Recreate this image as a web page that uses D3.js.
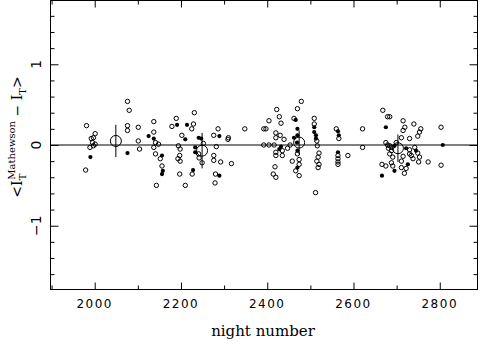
<!DOCTYPE html>
<html>
<head>
<meta charset="utf-8">
<script src="https://cdn.jsdelivr.net/npm/d3@7"></script>
<style>
  body { margin: 0; background: #fff; }
  svg text { fill: #000; }
</style>
</head>
<body>
<div id="chart"></div>
<script>
// single nights, open symbols
const openNight = [1981,1979,2001,1997,1992,1995,2001,1989,1997,2076,2080,2076,2076,2101,2101,2104,
  2231,2137,2189,2179,2229,2225,2137,2202,2141,2148,2137,2194,2198,2241,2141,2152,2197,2193,2198,2156,2197,2226,2143,2210,
  2252,2242,2249,2286,2276,2310,2309,2348,2392,2282,2276,2276,2292,2317,2280,2279,2392,
  2479,2470,2422,2428,2404,2432,2462,2509,2509,2397,2420,2430,2420,2439,2515,2404,2416,2453,2516,2420,2435,2447,2420,2435,
  2470,2458,2474,2520,2518,2515,2520,2518,2474,2466,2418,2414,2420,2474,2512,
  2560,2566,2564,2564,2564,2564,2587,2621,2621,2668,2679,2675,2679,2681,2666,2675,
  2684,2715,2740,2719,2756,2753,2715,2711,2730,2749,2803,2699,2684,2689,2730,2742,2749,2730,2734,2753,2738,2715,2711,
  2688,2684,2691,2688,2691,2711,2722,2751,2773,2803,2718];
const openDiff = [0.24,-0.31,0.14,0.09,0.08,0.03,0.01,-0.03,-0.01,0.54,0.43,0.24,0.18,0.22,0.05,-0.05,
  0.40,0.29,0.33,0.23,0.26,0.20,0.16,0.12,0.03,0.01,-0.03,-0.01,-0.05,-0.11,-0.11,-0.17,-0.13,-0.17,-0.20,-0.26,-0.36,-0.36,-0.50,-0.50,
  0.02,-0.16,-0.22,0.20,0.12,0.09,0.07,0.20,0.20,-0.02,-0.13,-0.19,-0.21,-0.23,-0.36,-0.47,0.00,
  0.54,0.45,0.44,0.35,0.30,0.27,0.33,0.33,0.26,0.20,0.15,0.12,0.09,0.07,0.05,0.00,0.00,0.00,-0.01,-0.09,-0.07,-0.04,-0.13,-0.13,
  -0.11,-0.20,-0.18,-0.10,-0.15,-0.20,-0.24,-0.28,-0.24,-0.32,-0.27,-0.36,-0.40,-0.38,-0.59,
  0.20,0.08,-0.13,-0.17,-0.21,-0.24,-0.13,0.20,-0.03,0.43,0.35,0.03,0.00,-0.04,-0.24,-0.26,
  0.35,0.30,0.26,0.22,0.20,0.16,0.18,0.09,0.08,0.11,0.22,0.03,-0.01,-0.03,-0.06,-0.03,-0.10,-0.11,-0.13,-0.15,-0.17,-0.14,-0.20,
  -0.07,-0.11,-0.15,-0.22,-0.26,-0.28,-0.29,-0.21,-0.21,-0.25,-0.35];

// single nights, filled symbols
const filledNight = [1990,2076,2191,2214,2125,2137,2210,2241,2233,2233,2156,2158,2156,2228,2247,2289,2289,
  2466,2509,2470,2509,2470,2462,2513,2513,2469,2432,2428,2470,2470,2564,2566,2564,2675,2666,2695,2722,2745,2695,2726,2807];
const filledDiff = [-0.15,-0.10,0.25,0.25,0.11,0.08,0.07,0.09,-0.03,-0.09,-0.13,-0.32,-0.36,-0.31,0.08,0.11,-0.38,
  0.31,0.22,0.20,0.16,0.12,0.09,0.12,0.08,0.03,-0.02,-0.05,-0.07,-0.28,0.17,0.12,-0.09,0.22,-0.38,-0.01,-0.04,-0.07,-0.32,-0.24,0.00];

// season means with errors
const meanNight = [2049, 2249, 2474, 2703];
const meanDiff = [0.05, -0.07, 0.03, -0.04];
const meanErr = [0.20, 0.22, 0.15, 0.17];

const xMajor = [2000, 2200, 2400, 2600, 2800];
const xMinor = [1900, 2100, 2300, 2500, 2700];
const yMajor = [-1, 0, 1];
const yMinor = [-1.6, -1.4, -1.2, -0.8, -0.6, -0.4, -0.2, 0.2, 0.4, 0.6, 0.8, 1.2, 1.4, 1.6];

const W = 480, H = 344;
const margin = {top: 0.5, right: 2.5, bottom: 54.5, left: 50.5};

const svg = d3.select('#chart').append('svg')
  .attr('width', W).attr('height', H);

const x = d3.scaleLinear().domain([1897.5, 2887.5]).range([margin.left, W - margin.right]);
const y = d3.scaleLinear().domain([-1.79, 1.79]).range([H - margin.bottom, margin.top]);

const x0 = margin.left, x1 = W - margin.right, y0 = margin.top, y1 = H - margin.bottom;

// frame
svg.append('rect')
  .attr('x', x0).attr('y', y0).attr('width', x1 - x0).attr('height', y1 - y0)
  .attr('fill', 'none').attr('stroke', '#000').attr('stroke-width', 1);

// ticks on all four sides, pointing inward
function addAxis(axis, tx, ty, values, size) {
  const g = svg.append('g').attr('transform', `translate(${tx},${ty})`)
    .call(axis.tickValues(values).tickSize(size).tickFormat(''));
  g.select('.domain').remove();
  g.selectAll('line').attr('stroke', '#000').attr('stroke-width', 1);
}
addAxis(d3.axisBottom(x), 0, y1, xMajor, -7);
addAxis(d3.axisBottom(x), 0, y1, xMinor, -4);
addAxis(d3.axisTop(x), 0, y0, xMajor, -7);
addAxis(d3.axisTop(x), 0, y0, xMinor, -4);
addAxis(d3.axisLeft(y), x0, 0, yMajor, -8);
addAxis(d3.axisLeft(y), x0, 0, yMinor, -4);
addAxis(d3.axisRight(y), x1, 0, yMajor, -8);
addAxis(d3.axisRight(y), x1, 0, yMinor, -4);

// tick labels
svg.append('g').selectAll('text').data(xMajor).join('text')
  .attr('x', d => x(d)).attr('y', y1 + 18)
  .attr('text-anchor', 'middle')
  .style('font-family', '"DejaVu Sans", sans-serif')
  .style('font-size', '12px').style('letter-spacing', '1.5px')
  .text(d => d);

svg.append('g').selectAll('text').data(yMajor).join('text')
  .attr('transform', d => `translate(40.5,${y(d)}) rotate(-90)`)
  .attr('text-anchor', 'middle')
  .style('font-family', '"DejaVu Sans", sans-serif')
  .style('font-size', '14px')
  .text(d => d < 0 ? '\u2212' + Math.abs(d) : d);

// zero line
svg.append('line')
  .attr('x1', x0).attr('x2', x1).attr('y1', y(0)).attr('y2', y(0))
  .attr('stroke', '#000').attr('stroke-width', 1);

// points
svg.append('g').selectAll('circle').data(d3.range(openNight.length)).join('circle')
  .attr('cx', i => x(openNight[i])).attr('cy', i => y(openDiff[i]))
  .attr('r', 2.2).attr('fill', 'none').attr('stroke', '#000').attr('stroke-width', 1);

svg.append('g').selectAll('circle').data(d3.range(filledNight.length)).join('circle')
  .attr('cx', i => x(filledNight[i])).attr('cy', i => y(filledDiff[i]))
  .attr('r', 2.1).attr('fill', '#000');

// means with error bars
const means = svg.append('g');
means.selectAll('line').data(d3.range(meanNight.length)).join('line')
  .attr('x1', i => x(meanNight[i])).attr('x2', i => x(meanNight[i]))
  .attr('y1', i => y(meanDiff[i] + meanErr[i])).attr('y2', i => y(meanDiff[i] - meanErr[i]))
  .attr('stroke', '#000').attr('stroke-width', 1);
means.selectAll('circle').data(d3.range(meanNight.length)).join('circle')
  .attr('cx', i => x(meanNight[i])).attr('cy', i => y(meanDiff[i]))
  .attr('r', 5.5).attr('fill', 'none').attr('stroke', '#000').attr('stroke-width', 1);

// axis titles
svg.append('text')
  .attr('x', 263).attr('y', 336)
  .attr('text-anchor', 'middle')
  .style('font-family', '"DejaVu Serif", serif')
  .style('font-size', '15px')
  .text('night number');

const yl = svg.append('text')
  .attr('transform', 'translate(22,137) rotate(-90)')
  .attr('text-anchor', 'middle')
  .style('font-family', '"DejaVu Serif", serif')
  .style('font-size', '14px');
yl.append('tspan').text('<I');
yl.append('tspan').attr('dy', 4).style('font-size', '10px').text('T');
yl.append('tspan').attr('dx', -6).attr('dy', -11).style('font-size', '10px').text('Mathewson');
yl.append('tspan').attr('dy', 7).text('  \u2212  I');
yl.append('tspan').attr('dy', 4).style('font-size', '10px').text('T');
yl.append('tspan').attr('dy', -4).text('>');
</script>
</body>
</html>
